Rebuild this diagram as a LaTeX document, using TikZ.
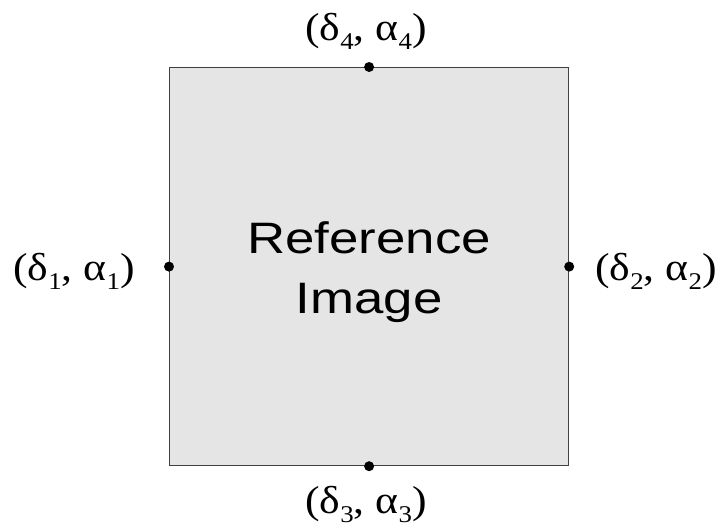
\documentclass[tikz,border=0pt]{standalone}
\usepackage{fontspec}
\setmainfont{Liberation Serif}
\newfontfamily\arialfont{Liberation Sans}
\newcommand{\sbx}[1]{\raisebox{-0.24em}{\fontsize{24}{24}\selectfont #1}}
\newcommand{\pair}[1]{\scalebox{1.12}[1]{(δ\sbx{#1}, α\sbx{#1})}}
\begin{document}
\begin{tikzpicture}[x=1pt,y=-1pt,
  lbl/.style={font=\fontsize{39}{40}\selectfont, inner sep=0pt, anchor=base},
  pt/.style={circle, fill=black, inner sep=0pt, minimum size=10pt}]
\useasboundingbox (0,0) rectangle (724,531);
\node[draw=black!75, line width=1.2pt, fill=black!10, minimum width=399pt, minimum height=398pt, inner sep=0pt, anchor=north west] (box) at (169,67) {};
\node[inner sep=0pt, font=\arialfont\fontsize{44}{60}\selectfont] (txt) at ([yshift=-5pt]box.center) {\scalebox{1.2}[1]{\begin{tabular}{@{}c@{}}Reference\\Image\end{tabular}}};
\node[pt] (p1) at (box.west) {};
\node[pt] (p2) at (box.east) {};
\node[pt] (p3) at (box.south) {};
\node[pt] (p4) at (box.north) {};
\node[lbl] (l1) at (74,280) {\pair{1}};
\node[lbl] (l2) at (656,280) {\pair{2}};
\node[lbl] (l3) at (366,513) {\pair{3}};
\node[lbl] (l4) at (366,40) {\pair{4}};
\end{tikzpicture}
\end{document}
